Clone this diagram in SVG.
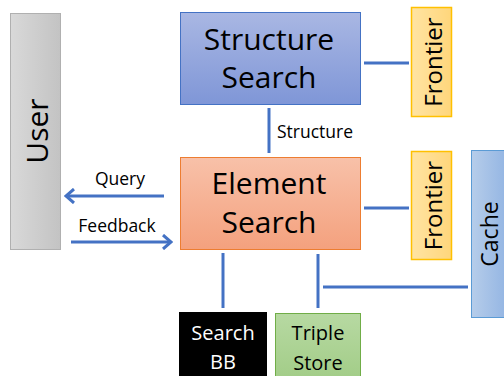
<svg xmlns="http://www.w3.org/2000/svg" width="504" height="376" viewBox="0 0 504 376">
<style>
text{font-family:"Open Sans","Noto Sans","DejaVu Sans",sans-serif;fill:#000}
.big{font-size:30px}
.mid{font-size:24px}
.sm{font-size:17.5px}
.bot{font-size:20px}
.ln{stroke:#4472c4;stroke-width:3;fill:none}
</style>
<defs>
<linearGradient id="gUser" x1="0" y1="0" x2="1" y2="0"><stop offset="0" stop-color="#d9d9d9"/><stop offset="1" stop-color="#c3c3c3"/></linearGradient>
<linearGradient id="gStruct" x1="0" y1="0" x2="0" y2="1"><stop offset="0" stop-color="#a9b7e3"/><stop offset="1" stop-color="#7f96d7"/></linearGradient>
<linearGradient id="gElem" x1="0" y1="0" x2="0" y2="1"><stop offset="0" stop-color="#f8c1a9"/><stop offset="1" stop-color="#f4a17e"/></linearGradient>
<linearGradient id="gFront" x1="0" y1="0" x2="1" y2="0"><stop offset="0" stop-color="#ffe4a3"/><stop offset="1" stop-color="#ffd67b"/></linearGradient>
<linearGradient id="gCache" x1="0" y1="0" x2="1" y2="0"><stop offset="0" stop-color="#b6cdea"/><stop offset="1" stop-color="#8fb2e2"/></linearGradient>
<linearGradient id="gTriple" x1="0" y1="0" x2="0" y2="1"><stop offset="0" stop-color="#b7d9a2"/><stop offset="1" stop-color="#a1cc86"/></linearGradient>
<marker id="arr" viewBox="0 0 16 16" refX="14" refY="8" markerWidth="16" markerHeight="16" markerUnits="userSpaceOnUse" orient="auto">
<path d="M 6 1 L 14 8 L 6 15" fill="none" stroke="#4472c4" stroke-width="3"/>
</marker>
</defs>
<rect width="504" height="376" fill="#ffffff"/>

<g id="connectors">
<line class="ln" x1="364" y1="63" x2="409" y2="63"/>
<line class="ln" x1="364" y1="208" x2="409" y2="208"/>
<line class="ln" x1="269" y1="108" x2="269" y2="153"/>
<line class="ln" x1="164" y1="196" x2="66" y2="196" marker-end="url(#arr)"/>
<line class="ln" x1="71" y1="242" x2="171" y2="242" marker-end="url(#arr)"/>
<line class="ln" x1="223" y1="253" x2="223" y2="308"/>
<line class="ln" x1="318" y1="254" x2="318" y2="308"/>
<line class="ln" x1="323" y1="287" x2="468" y2="287"/>
<text class="sm" x="277" y="138">Structure</text>
<text class="sm" x="120" y="185" text-anchor="middle">Query</text>
<text class="sm" x="117" y="232" text-anchor="middle">Feedback</text>
</g>

<g id="user">
<rect x="10.5" y="13.5" width="50" height="236" fill="url(#gUser)" stroke="#b0b0b0" stroke-width="1"/>
<text class="big" transform="translate(48,131) rotate(-90)" text-anchor="middle">User</text>
</g>

<g id="structure-search">
<rect x="180.5" y="12.5" width="180" height="92" fill="url(#gStruct)" stroke="#4472c4" stroke-width="1"/>
<text class="big" x="269" y="50" text-anchor="middle">Structure</text>
<text class="big" x="269" y="88" text-anchor="middle">Search</text>
</g>

<g id="element-search">
<rect x="180.5" y="157.5" width="180" height="92" fill="url(#gElem)" stroke="#ed7d31" stroke-width="1"/>
<text class="big" x="269" y="194" text-anchor="middle">Element</text>
<text class="big" x="269" y="233" text-anchor="middle">Search</text>
</g>

<g id="frontier-top">
<rect x="411.5" y="7.5" width="40" height="109" fill="url(#gFront)" stroke="#ffc000" stroke-width="1.5"/>
<text class="mid" transform="translate(442,62) rotate(-90)" text-anchor="middle">Frontier</text>
</g>

<g id="frontier-bottom">
<rect x="411.5" y="151.5" width="40" height="108" fill="url(#gFront)" stroke="#ffc000" stroke-width="1.5"/>
<text class="mid" transform="translate(442,205.5) rotate(-90)" text-anchor="middle">Frontier</text>
</g>

<g id="cache">
<rect x="471.5" y="150.5" width="40" height="167" fill="url(#gCache)" stroke="#5b9bd5" stroke-width="1"/>
<text transform="translate(498,234) rotate(-90)" text-anchor="middle" style="font-size:23px">Cache</text>
</g>

<g id="search-bb">
<rect x="179" y="312" width="88" height="70" fill="#000000"/>
<text class="bot" x="223" y="340" text-anchor="middle" style="fill:#ffffff">Search</text>
<text class="bot" x="223" y="369" text-anchor="middle" style="fill:#ffffff">BB</text>
</g>

<g id="triple-store">
<rect x="275.5" y="313.5" width="85" height="70" fill="url(#gTriple)" stroke="#70ad47" stroke-width="1"/>
<text class="bot" x="318" y="340" text-anchor="middle">Triple</text>
<text class="bot" x="318" y="370" text-anchor="middle">Store</text>
</g>
</svg>
